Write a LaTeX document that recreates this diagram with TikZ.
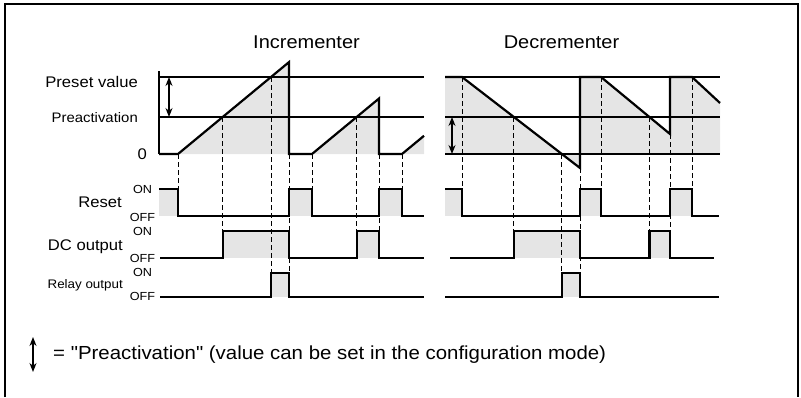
\documentclass[tikz,border=0pt]{standalone}
\usepackage{fontspec}
\setmainfont[FakeStretch=1.08]{Liberation Sans}
\newfontfamily\plainquotes[FakeStretch=1.08]{Liberation Sans}
\usetikzlibrary{arrows.meta}

\begin{document}
\begin{tikzpicture}[x=1pt, y=-1pt,
    titletext/.style={inner sep=0pt, anchor=base, font=\fontsize{18.5}{22}\selectfont},
    lbl/.style={inner sep=0pt, anchor=base east, font=\fontsize{15.4}{18}\selectfont},
    onoff/.style={inner sep=0pt, anchor=base, font=\fontsize{11.7}{14}\selectfont},
    levelline/.style={line width=1.1pt},
    wave/.style={line width=2.2pt, line join=miter},
    greyarea/.style={fill=black!10},
    guide/.style={line width=0.9pt, dash pattern=on 5pt off 3pt},
    spanarrow/.style={{Stealth[length=9pt,width=7pt]}-{Stealth[length=9pt,width=7pt]}, line width=1.3pt}]
  \useasboundingbox (0,0) rectangle (801,397);

  % Frame
  \draw[line width=2.5pt] (5,397) -- (5,4) -- (798,4) -- (798,397);

  % Titles and value labels
  \node[titletext] (IncTitle) at (306.5,48) {Incrementer};
  \node[titletext] (DecTitle) at (561.5,48) {Decrementer};
  \node[lbl] (PresetLbl) at (138,87) {Preset value};
  \node[lbl, font=\fontsize{13.8}{16}\selectfont] (PreactLbl) at (138,122) {Preactivation};
  \node[lbl] (ZeroLbl) at (147,159.5) {0};

  % Signal labels
  \node[lbl] (ResetLbl) at (122,207) {Reset};
  \node[lbl] (DCLbl) at (123,250) {DC output};
  \node[lbl, font=\fontsize{12.4}{15}\selectfont] (RelayLbl) at (123,288.5) {Relay output};
  \node[onoff] (ResetOn) at (142.5,193) {ON};
  \node[onoff] (ResetOff) at (142.5,221) {OFF};
  \node[onoff] (DCOn) at (142.5,235) {ON};
  \node[onoff] (DCOff) at (142.5,262) {OFF};
  \node[onoff] (RelayOn) at (142.5,276) {ON};
  \node[onoff] (RelayOff) at (142.5,300.5) {OFF};

  % Grey areas under the counts
  \fill[greyarea] (178,154) -- (289,62.1) -- (289,154) -- cycle;
  \fill[greyarea] (312,154) -- (379,98.5) -- (379,154) -- cycle;
  \fill[greyarea] (402,154) -- (424,135.8) -- (424,154) -- cycle;
  \fill[greyarea] (445,154) -- (445,77) -- (462,77) -- (580,168) -- (580,77) -- (601,77)
    -- (670,134) -- (670,77) -- (692,77) -- (720,103) -- (720,154) -- cycle;

  % Grey areas under the ON states
  \foreach \a/\b/\on/\off in {159/178/189/216, 289/312/189/216, 379/402/189/216,
      445/462/189/216, 580/601/189/216, 670/692/189/216,
      222.7/289/231/258, 356.7/379/231/258, 513.9/580/231/258, 649.4/670/231/258,
      271/289/273/297, 561.8/580/273/297}
    \fill[greyarea] (\a,\on) rectangle (\b,\off);

  % Dashed guides
  \foreach \x/\top/\bot in {178/154/189, 222.7/117/231, 271/77/273, 289/154/273,
      312/154/189, 356.7/117/231, 379/154/231, 402/154/189,
      462/77/189, 513.9/117/231, 561.8/154/273, 580/168/273,
      601/77/189, 649.4/117/231, 670/134/231, 692/77/189}
    \draw[guide] (\x,\top) -- (\x,\bot);

  % Levels
  \draw[levelline] (159,71) -- (159,154);
  \draw[levelline] (159,77) -- (424,77);
  \draw[levelline] (159,117) -- (424,117);
  \draw[levelline] (445,77) -- (720,77);
  \draw[levelline] (445,117) -- (720,117);
  \draw[levelline] (445,154) -- (720,154);

  % Counts
  \draw[wave] (159,154) -- (178,154) -- (289,62.1) -- (289,154) -- (312,154) -- (379,98.5)
    -- (379,154) -- (402,154) -- (424,135.8);
  \draw[wave] (445,77) -- (462,77) -- (580,168) -- (580,77) -- (601,77) -- (670,134)
    -- (670,77) -- (692,77) -- (720,103);

  % Reset
  \draw[wave] (159,189) -- (178,189) -- (178,216) -- (289,216) -- (289,189) -- (312,189)
    -- (312,216) -- (379,216) -- (379,189) -- (402,189) -- (402,216) -- (424,216);
  \draw[wave] (445,189) -- (462,189) -- (462,216) -- (580,216) -- (580,189) -- (601,189)
    -- (601,216) -- (670,216) -- (670,189) -- (692,189) -- (692,216) -- (719,216);

  % DC output
  \draw[wave] (160,258) -- (222.7,258) -- (222.7,231) -- (289,231) -- (289,258)
    -- (356.7,258) -- (356.7,231) -- (379,231) -- (379,258) -- (424,258);
  \draw[wave] (450,258) -- (513.9,258) -- (513.9,231) -- (580,231) -- (580,258)
    -- (649.4,258) -- (649.4,231) -- (670,231) -- (670,258) -- (714,258);

  % Relay output
  \draw[wave] (160,297) -- (271,297) -- (271,273) -- (289,273)
    -- (289,297) -- (424,297);
  \draw[wave] (445,297) -- (561.8,297) -- (561.8,273) -- (580,273) -- (580,297) -- (719,297);

  % Preactivation ranges
  \coordinate (IncTop) at (169,77);
  \coordinate (IncBot) at (169,117);
  \coordinate (DecTop) at (452,117);
  \coordinate (DecBot) at (452,154);
  \draw[spanarrow] (IncTop) -- (IncBot);
  \draw[spanarrow] (DecTop) -- (DecBot);

  % Legend
  \coordinate (KeyTop) at (33,337);
  \coordinate (KeyBot) at (33,372);
  \draw[spanarrow] (KeyTop) -- (KeyBot);
  \node[inner sep=0pt, anchor=base west, font=\fontsize{18.9}{22}\plainquotes] (KeyText) at (53,359)
    {= "Preactivation" (value can be set in the configuration mode)};
\end{tikzpicture}
\end{document}
